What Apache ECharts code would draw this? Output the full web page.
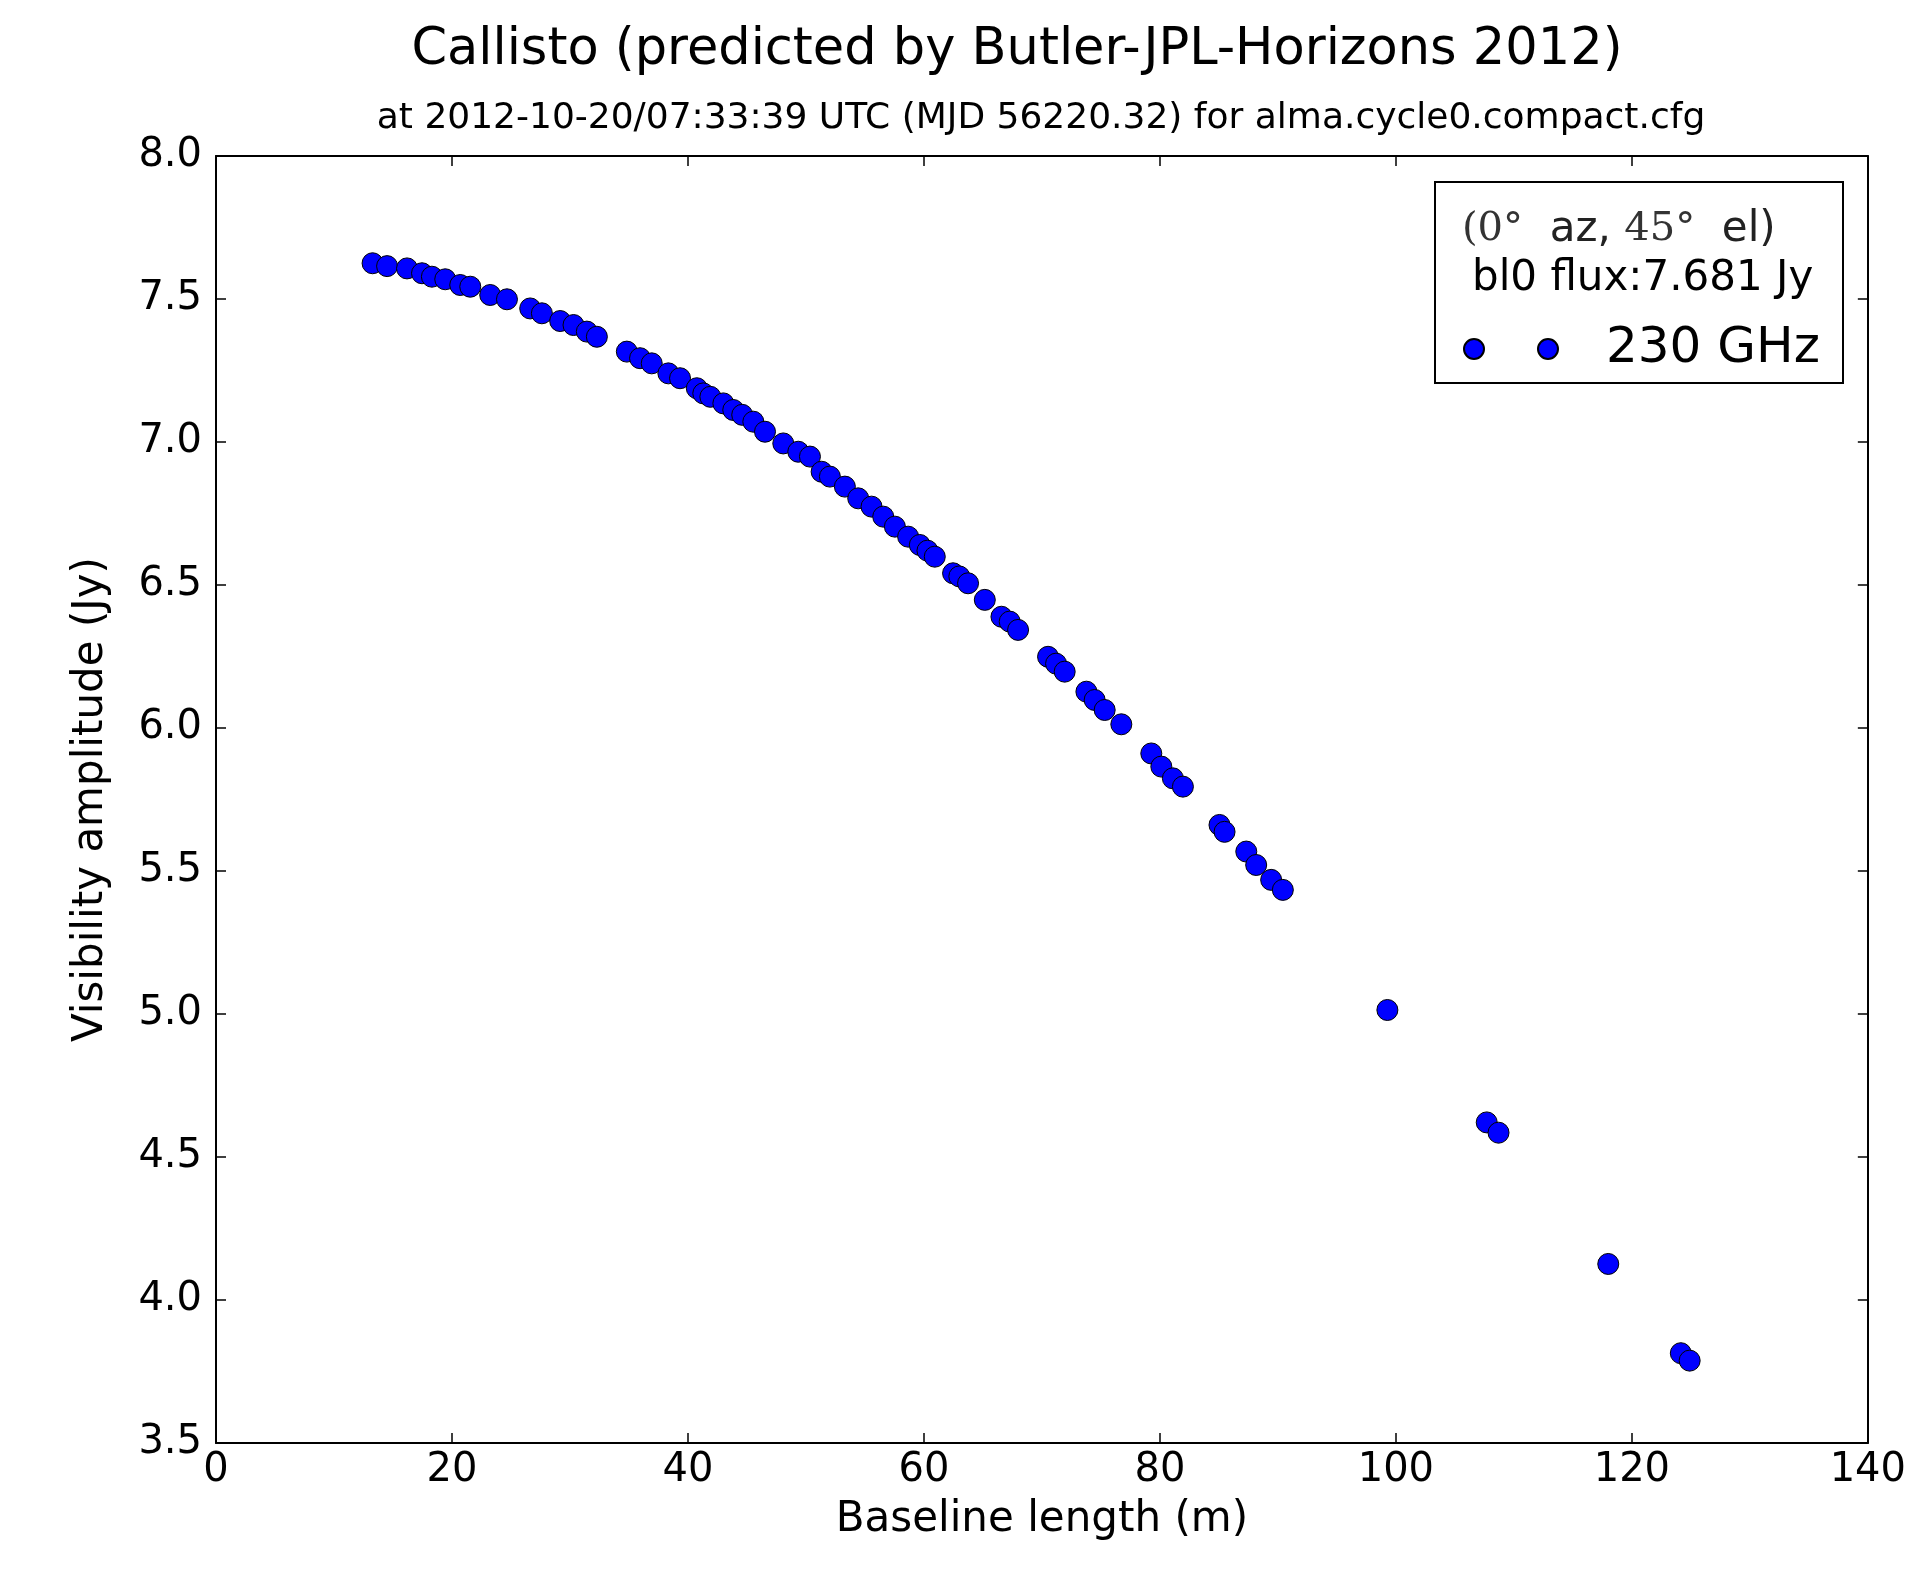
<!DOCTYPE html>
<html>
<head>
<meta charset="utf-8">
<title>Callisto visibility</title>
<script src="https://cdn.jsdelivr.net/npm/echarts@6/dist/echarts.min.js"></script>
<style>
  html, body { margin: 0; padding: 0; background: #fff; }
  #main { width: 1909px; height: 1569px; }
</style>
</head>
<body>
<div id="main"></div>
<script>
// baseline length (m)
var baseline = [
  13.27, 14.5, 16.19, 17.46, 18.3, 19.43, 20.7, 21.55, 23.24, 24.66,
  26.63, 27.62, 29.17, 30.3, 31.43, 32.28,
  34.82, 35.94, 36.93, 38.34, 39.33, 40.75, 41.3, 41.9, 43.0, 43.84,
  44.6, 45.54, 46.53, 48.08, 49.35, 50.34, 51.33, 52.03, 53.3, 54.43,
  55.56, 56.55, 57.54, 58.66, 59.65, 60.3, 60.92, 62.47, 63.0, 63.74,
  65.16, 66.57, 67.27, 67.98,
  70.52, 71.2, 71.93, 73.77, 74.47, 75.32, 76.73,
  79.27, 80.12, 81.1, 81.95,
  85.05, 85.48, 87.32, 88.16, 89.43, 90.42,
  99.28, 107.7, 108.7, 118.0, 124.15, 124.9
];
// visibility amplitude (Jy)
var amplitude = [
  7.625, 7.615, 7.607, 7.59, 7.578, 7.569, 7.549, 7.543, 7.514, 7.499,
  7.467, 7.45, 7.423, 7.409, 7.386, 7.368,
  7.316, 7.293, 7.275, 7.24, 7.223, 7.188, 7.17, 7.158, 7.135, 7.112,
  7.095, 7.071, 7.036, 6.995, 6.966, 6.949, 6.896, 6.879, 6.844, 6.803,
  6.774, 6.739, 6.704, 6.669, 6.64, 6.62, 6.599, 6.541, 6.53, 6.506,
  6.448, 6.389, 6.372, 6.343,
  6.249, 6.225, 6.197, 6.127, 6.098, 6.063, 6.013,
  5.911, 5.865, 5.824, 5.795,
  5.661, 5.637, 5.568, 5.521, 5.469, 5.434,
  5.014, 4.621, 4.585, 4.126, 3.814, 3.788
];
var seriesName = '230 GHz';
var xTicks = {min: 0, max: 140, interval: 20};
var yTicks = {min: 3.5, max: 8.0, interval: 0.5};

var points = [];
for (var i = 0; i < baseline.length; i++) {
  points.push([baseline[i], amplitude[i]]);
}

var FONT = 'DejaVu Sans';
var myChart = echarts.init(document.getElementById('main'));

// shared look of the frame axes (matplotlib style: ticks inside, black box)
function frameAxis(extra) {
  var ax = {
    type: 'value',
    axisLine: {show: true, onZero: false, lineStyle: {color: '#000', width: 2}},
    axisTick: {show: true, inside: true, length: 10, lineStyle: {color: '#000', width: 1.5}},
    splitLine: {show: false},
    axisLabel: {show: false}
  };
  for (var k in extra) ax[k] = extra[k];
  return ax;
}

var option = {
  backgroundColor: '#fff',
  animation: false,
  grid: {left: 216, right: 40, top: 156, bottom: 126},
  xAxis: [
    frameAxis({
      position: 'bottom', min: xTicks.min, max: xTicks.max, interval: xTicks.interval,
      name: 'Baseline length (m)', nameLocation: 'middle', nameGap: 56,
      nameTextStyle: {fontFamily: FONT, fontSize: 42, color: '#000'},
      axisLabel: {show: true, margin: 8, fontFamily: FONT, fontSize: 40, color: '#000'}
    }),
    frameAxis({position: 'top', min: xTicks.min, max: xTicks.max, interval: xTicks.interval})
  ],
  yAxis: [
    frameAxis({
      position: 'left', min: yTicks.min, max: yTicks.max, interval: yTicks.interval,
      name: 'Visibility amplitude (Jy)', nameLocation: 'middle', nameGap: 104,
      nameTextStyle: {fontFamily: FONT, fontSize: 42, color: '#000'},
      axisLabel: {
        show: true, margin: 14, fontFamily: FONT, fontSize: 40, color: '#000',
        formatter: function (v) { return v.toFixed(1); }
      }
    }),
    frameAxis({position: 'right', min: yTicks.min, max: yTicks.max, interval: yTicks.interval})
  ],
  legend: {
    data: [seriesName],
    left: 1463, top: 324,
    padding: 0,
    itemWidth: 94, itemHeight: 20,
    // two markers like matplotlib's numpoints=2
    icon: 'path://M0,10A10,10,0,1,1,20,10A10,10,0,1,1,0,10Z M74,10A10,10,0,1,1,94,10A10,10,0,1,1,74,10Z',
    textStyle: {fontFamily: FONT, fontSize: 50, color: '#000', padding: [0, 0, 0, 43]},
    z: 6
  },
  graphic: [
    {type: 'text', x: 1017, y: 51, style: {
      text: 'Callisto (predicted by Butler-JPL-Horizons 2012)',
      font: '51px "DejaVu Sans"', fill: '#000', align: 'center', verticalAlign: 'middle'}},
    {type: 'text', x: 1041, y: 119, style: {
      text: 'at 2012-10-20/07:33:39 UTC (MJD 56220.32) for alma.cycle0.compact.cfg',
      font: '36px "DejaVu Sans"', fill: '#000', align: 'center', verticalAlign: 'middle'}},
    // legend box
    {type: 'rect', z: 5, shape: {x: 1435, y: 182, width: 408, height: 201},
      style: {fill: '#fff', stroke: '#000', lineWidth: 2}},
    {type: 'text', z: 6, x: 1462, y: 230, style: {
      text: '{m|(0°}  az, {m|45°}  el)',
      font: '42px "DejaVu Sans"', fill: '#222', verticalAlign: 'middle',
      rich: {m: {fontFamily: 'DejaVu Serif', fontSize: 40, fill: '#333'}}}},
    {type: 'text', z: 6, x: 1472, y: 279, style: {
      text: 'bl0 flux:7.681 Jy',
      font: '42px "DejaVu Sans"', fill: '#000', verticalAlign: 'middle'}}
  ],
  series: [{
    name: seriesName,
    type: 'scatter',
    xAxisIndex: 0,
    yAxisIndex: 0,
    symbol: 'circle',
    symbolSize: 21,
    itemStyle: {color: '#0000ff', borderColor: '#000', borderWidth: 1, opacity: 1},
    data: points
  }]
};
myChart.setOption(option, true);
window.addEventListener('resize', function () {
  myChart.resize();
});
</script>
</body>
</html>
